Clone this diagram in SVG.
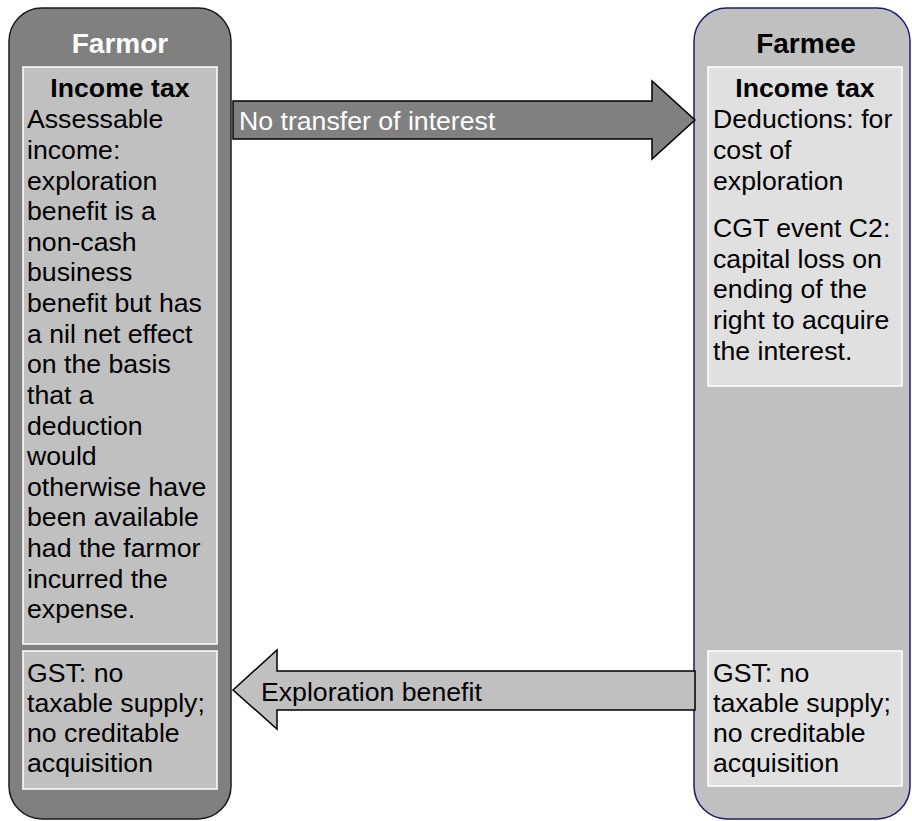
<svg xmlns="http://www.w3.org/2000/svg" width="912" height="821" viewBox="0 0 912 821">
<style>
.t{font-family:"Liberation Sans",Arial,sans-serif;font-size:26.67px;fill:#000}
.b{font-weight:bold}
.title{font-family:"Liberation Sans",Arial,sans-serif;font-size:28px;font-weight:bold;text-anchor:middle}
.inner{stroke:#ffffff;stroke-width:1.5}
</style>
<rect width="912" height="821" fill="#ffffff"/>
<g id="farmor">
<rect x="9" y="8" width="222" height="811" rx="33" ry="33" fill="#808080" stroke="#1a1a1a" stroke-width="1.5"/>
<text class="title" x="120" y="53" fill="#ffffff">Farmor</text>
<rect class="inner" x="23" y="67" width="194" height="577" fill="#c0c0c0"/>
<text class="t b" x="120" y="97" text-anchor="middle">Income tax</text>
<text class="t" x="27" y="128.3">
<tspan x="27">Assessable</tspan>
<tspan x="27" dy="30.63">income:</tspan>
<tspan x="27" dy="30.63">exploration</tspan>
<tspan x="27" dy="30.63">benefit is a</tspan>
<tspan x="27" dy="30.63">non-cash</tspan>
<tspan x="27" dy="30.63">business</tspan>
<tspan x="27" dy="30.63">benefit but has</tspan>
<tspan x="27" dy="30.63">a nil net effect</tspan>
<tspan x="27" dy="30.63">on the basis</tspan>
<tspan x="27" dy="30.63">that a</tspan>
<tspan x="27" dy="30.63">deduction</tspan>
<tspan x="27" dy="30.63">would</tspan>
<tspan x="27" dy="30.63">otherwise have</tspan>
<tspan x="27" dy="30.63">been available</tspan>
<tspan x="27" dy="30.63">had the farmor</tspan>
<tspan x="27" dy="30.63">incurred the</tspan>
<tspan x="27" dy="30.63">expense.</tspan>
</text>
<rect class="inner" x="23" y="651" width="194" height="138" fill="#c0c0c0"/>
<text class="t" x="27" y="681.5">
<tspan x="27">GST: no</tspan>
<tspan x="27" dy="30">taxable supply;</tspan>
<tspan x="27" dy="30">no creditable</tspan>
<tspan x="27" dy="30">acquisition</tspan>
</text>
</g>
<g id="farmee">
<rect x="694" y="8" width="216" height="811" rx="33" ry="33" fill="#c0c0c0" stroke="#1c1c6c" stroke-width="1.5"/>
<text class="title" x="806" y="53" fill="#000000">Farmee</text>
<rect class="inner" x="708" y="67" width="194" height="319" fill="#e0e0e0"/>
<text class="t b" x="805" y="96.5" text-anchor="middle">Income tax</text>
<text class="t" x="713" y="128.3">
<tspan x="713">Deductions: for</tspan>
<tspan x="713" dy="30.63">cost of</tspan>
<tspan x="713" dy="30.63">exploration</tspan>
<tspan x="713" dy="47.5">CGT event C2:</tspan>
<tspan x="713" dy="30.63">capital loss on</tspan>
<tspan x="713" dy="30.63">ending of the</tspan>
<tspan x="713" dy="30.63">right to acquire</tspan>
<tspan x="713" dy="30.63">the interest.</tspan>
</text>
<rect class="inner" x="708" y="651" width="194" height="135" fill="#e0e0e0"/>
<text class="t" x="713" y="681.5">
<tspan x="713">GST: no</tspan>
<tspan x="713" dy="30">taxable supply;</tspan>
<tspan x="713" dy="30">no creditable</tspan>
<tspan x="713" dy="30">acquisition</tspan>
</text>
</g>
<g id="connectors">
<g id="arrow-no-transfer">
<polygon points="233,101 652,101 652,81 695,120 652,159 652,139 233,139" fill="#808080" stroke="#000000" stroke-width="1.5" stroke-linejoin="miter"/>
<text class="t" x="239" y="130" fill="#ffffff" style="fill:#ffffff">No transfer of interest</text>
</g>
<g id="arrow-exploration-benefit">
<polygon points="233,690 277,650 277,671 695,671 695,710 277,710 277,729" fill="#c0c0c0" stroke="#000000" stroke-width="1.5"/>
<text class="t" x="261" y="701">Exploration benefit</text>
</g>
</g>
</svg>
